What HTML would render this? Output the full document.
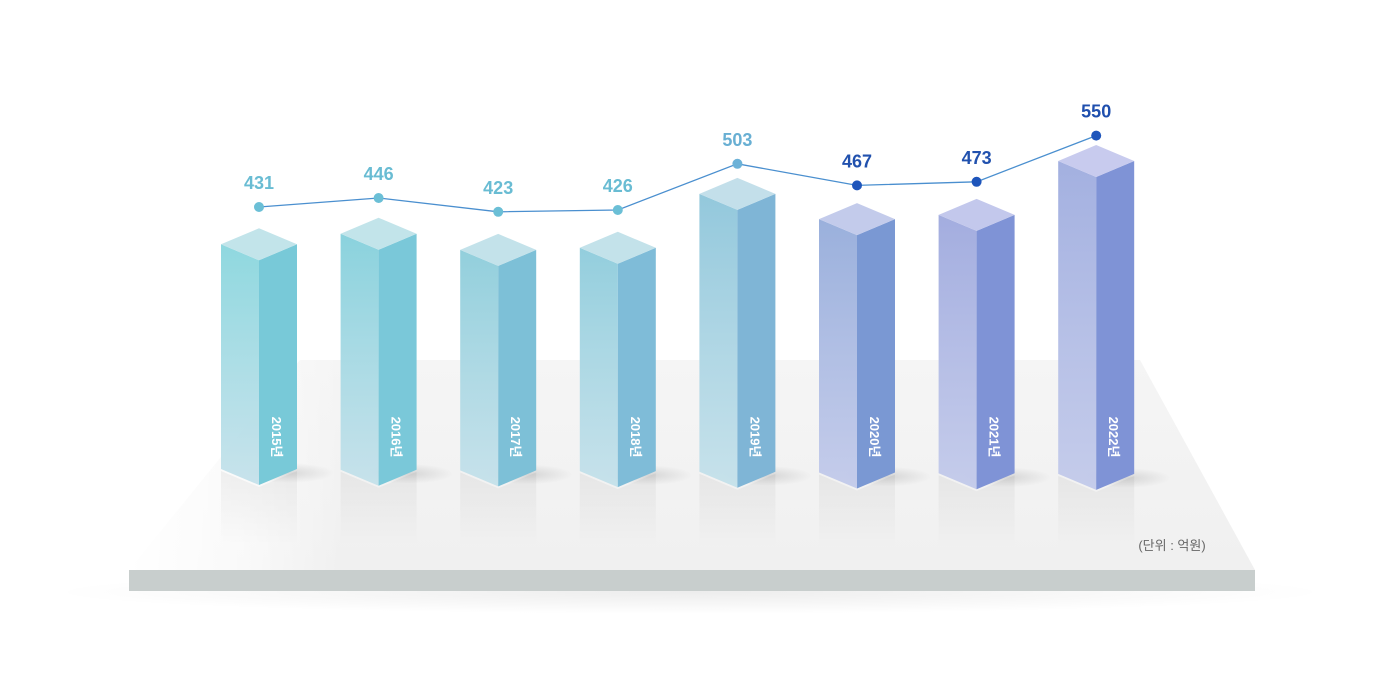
<!DOCTYPE html>
<html><head><meta charset="utf-8"><style>
body{margin:0;background:#fff;width:1380px;height:680px;overflow:hidden}
svg{display:block;font-family:"Liberation Sans","Noto Sans CJK KR",sans-serif}
</style></head><body>
<svg id="chart" width="1380" height="680" viewBox="0 0 1380 680">
<defs>
<linearGradient id="floor" x1="0" y1="0" x2="0" y2="1"><stop offset="0" stop-color="#f5f5f5"/><stop offset="1" stop-color="#f0f0f0"/></linearGradient>
<linearGradient id="floorL" x1="0" y1="0" x2="1" y2="0"><stop offset="0" stop-color="#fff"/><stop offset="0.25" stop-color="#fff" stop-opacity="0.6"/><stop offset="0.45" stop-color="#fff" stop-opacity="0"/></linearGradient>
<linearGradient id="refl" x1="0" y1="0" x2="0" y2="1"><stop offset="0" stop-color="#000" stop-opacity="0.05"/><stop offset="1" stop-color="#000" stop-opacity="0"/></linearGradient>
<radialGradient id="shadow" cx="0.5" cy="0.5" r="0.5"><stop offset="0" stop-color="#000" stop-opacity="0.12"/><stop offset="1" stop-color="#000" stop-opacity="0"/></radialGradient>
</defs>
<g>
<ellipse cx="690" cy="592" rx="640" ry="22" fill="url(#shadow)" opacity="0.6"/>
<polygon points="300,360 1140,360 1255,570 129,570" fill="url(#floor)"/>
<polygon points="129,355 600,355 600,570 129,570" fill="url(#floorL)"/>
<rect x="129" y="570" width="1126" height="21" fill="#c8cecd"/>
</g>
<g id="bars"></g>
<g id="line"></g>
<text x="1172" y="550" font-size="13" fill="#666" text-anchor="middle">(단위 : 억원)</text>
</svg>
<script>
const categories=["2015년","2016년","2017년","2018년","2019년","2020년","2021년","2022년"];
const values=[431,446,423,426,503,467,473,550];
const ns="http://www.w3.org/2000/svg";
const xs=i=>259+i*119.6;
const barTop=v=>485-(v*0.70-77);
const lineY=v=>207-(v-431)*0.6;
const leftCols=["#8fd8df","#8ad2dd","#92cfdc","#93cedd","#93c8dc","#9ab0dc","#a3addf","#a3b0e0"];
const rightCols=["#78c9d8","#7ac8d9","#7dc0d7","#7fbcd8","#7fb5d6","#7a98d3","#7f93d6","#7f93d6"];
const topCols=["#c2e4ea","#c2e4ea","#c3e2ea","#c3e2ea","#c3dfea","#c3cbeb","#c3c8ec","#c8cbee"];
const ptCols=["#6bbfd6","#6bbfd6","#6bbfd6","#6bbfd6","#6cb2d8","#1e55bb","#1e55bb","#1e55bb"];
const labCols=["#69bcd3","#69bcd3","#69bcd3","#69bcd3","#68afd3","#2151ae","#2151ae","#1f4fae"];
function el(t,a,p){const e=document.createElementNS(ns,t);for(const k in a)e.setAttribute(k,a[k]);p.appendChild(e);return e;}
const bars=document.getElementById('bars'),line=document.getElementById('line');
const defs=document.querySelector('defs');
values.forEach((v,i)=>{
 const cx=xs(i),ft=barTop(v),fb=485+i*0.7,w=38,d=16;
 const g=el('g',{},bars);
 
 
 const lg=el('linearGradient',{id:'lg'+i,x1:0,y1:0,x2:0,y2:1},defs);
 el('stop',{offset:0,'stop-color':leftCols[i]},lg);el('stop',{offset:1,'stop-color':'#c2e0ea','stop-opacity':0.9},lg);
 if(i>=5){lg.lastChild.setAttribute('stop-color','#c0c8ea');}
 el('ellipse',{cx:cx+30,cy:fb-12,rx:45,ry:10,fill:'url(#shadow)'},g);
 el('polygon',{points:`${cx-w},${fb-d+2} ${cx},${fb+2} ${cx+w},${fb-d+2} ${cx+w},${fb+60} ${cx-w},${fb+60}`,fill:'url(#refl)'},g);
 el('polygon',{points:`${cx-w},${ft-d} ${cx},${ft} ${cx},${fb} ${cx-w},${fb-d}`,fill:'url(#lg'+i+')'},g);
 el('polygon',{points:`${cx},${ft} ${cx+w},${ft-d} ${cx+w},${fb-d} ${cx},${fb}`,fill:rightCols[i]},g);
 el('polygon',{points:`${cx-w},${ft-d} ${cx},${ft-2*d} ${cx+w},${ft-d} ${cx},${ft}`,fill:topCols[i]},g);
 const t=el('text',{x:0,y:0,'font-size':13,'font-weight':'bold',fill:'#fff','text-anchor':'middle',transform:`translate(${cx+13},437) rotate(90)`},g);
 t.textContent=categories[i];
 
 
});
const pts=values.map((v,i)=>[xs(i),lineY(v)]);
const pl=el('polyline',{points:pts.map(p=>p.join(',')).join(' '),fill:'none',stroke:'#4a8fcf','stroke-width':1.3},line);


values.forEach((v,i)=>{
 const c=el('circle',{cx:pts[i][0],cy:pts[i][1],r:5,fill:ptCols[i]},line);
 
 
 const t=el('text',{x:pts[i][0],y:pts[i][1]-18,'font-size':18,'font-weight':'bold',fill:labCols[i],'text-anchor':'middle'},line);
 t.textContent=v;
 
 
});
</script>
</body></html>
